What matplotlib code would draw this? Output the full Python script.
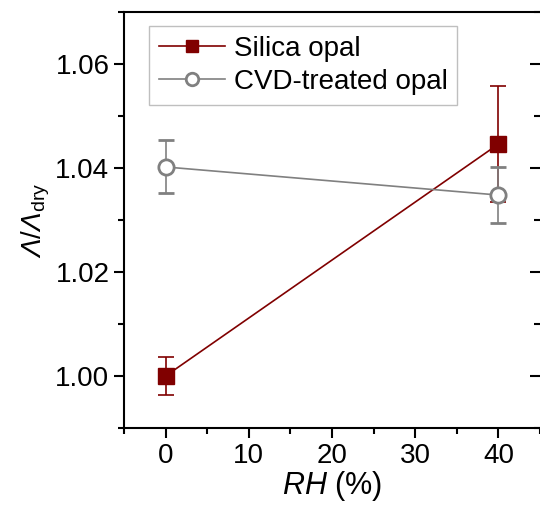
import numpy as np
import matplotlib.pyplot as plt
from matplotlib import rcParams
from matplotlib.ticker import MultipleLocator

rcParams.update({'font.family': 'Liberation Sans', 'font.size': 20,
                 'mathtext.fontset': 'custom',
                 'mathtext.rm': 'Liberation Sans',
                 'mathtext.it': 'Liberation Sans:italic',
                 'mathtext.sf': 'Liberation Sans:italic'})

rh = [0, 40]
silica = [1.000, 1.0446]
silica_err = [0.0036, 0.0111]
cvd = [1.0402, 1.0348]
cvd_err = [0.0051, 0.0053]

fig = plt.figure(figsize=(5.4, 5.11), dpi=100)
ax = fig.add_axes([0.2296, 0.1624, 0.7704, 0.8141])

e1 = ax.errorbar(rh, silica, yerr=silica_err, color='#800000', marker='s', ms=11,
                 lw=1.2, capsize=6, elinewidth=1.2, capthick=1.2)
e2 = ax.errorbar(rh, cvd, yerr=cvd_err, color='#808080', marker='o', ms=11,
                 mfc='white', mew=2, lw=1.2, capsize=6, elinewidth=1.2, capthick=1.2)

ax.set_xlim(-5, 45)
ax.set_ylim(0.99, 1.07)
ax.xaxis.set_major_locator(MultipleLocator(10))
ax.xaxis.set_minor_locator(MultipleLocator(5))
ax.yaxis.set_major_locator(MultipleLocator(0.02))
ax.yaxis.set_minor_locator(MultipleLocator(0.01))
ax.yaxis.set_major_formatter(plt.FormatStrFormatter('%.2f'))

for s in ['left', 'bottom', 'top']:
    ax.spines[s].set_linewidth(1.5)
ax.spines['right'].set_visible(False)
ax.tick_params(which='both', width=1.5, direction='out', top=False)
ax.tick_params(which='major', length=7)
ax.tick_params(which='minor', length=4)
ax.tick_params(axis='y', which='both', right=True)

ax.set_xlabel(r'$\it{RH}$ (%)', fontsize=22, labelpad=0)
ax.set_ylabel(r'$\mathsf{Λ}/\mathsf{Λ}_{\rm dry}$', fontsize=20, labelpad=2)

leg = ax.legend([e1[0], e2[0]], ['Silica opal', 'CVD-treated opal'],
                loc='upper left', bbox_to_anchor=(0.06, 0.966), borderaxespad=0,
                fontsize=20, frameon=True, fancybox=False,
                edgecolor='#b0b0b0', handlelength=2.4, borderpad=0.35,
                labelspacing=0.25, handletextpad=0.3)
leg.get_frame().set_linewidth(1.0)
for h in leg.legend_handles:
    h.set_markersize(9)

# right ticks point inward since the right spine is off the picture
for t in ax.yaxis.get_major_ticks() + ax.yaxis.get_minor_ticks():
    t.tick2line.set_marker(0)

fig.savefig('out.png', dpi=100)
plt.close(fig)
